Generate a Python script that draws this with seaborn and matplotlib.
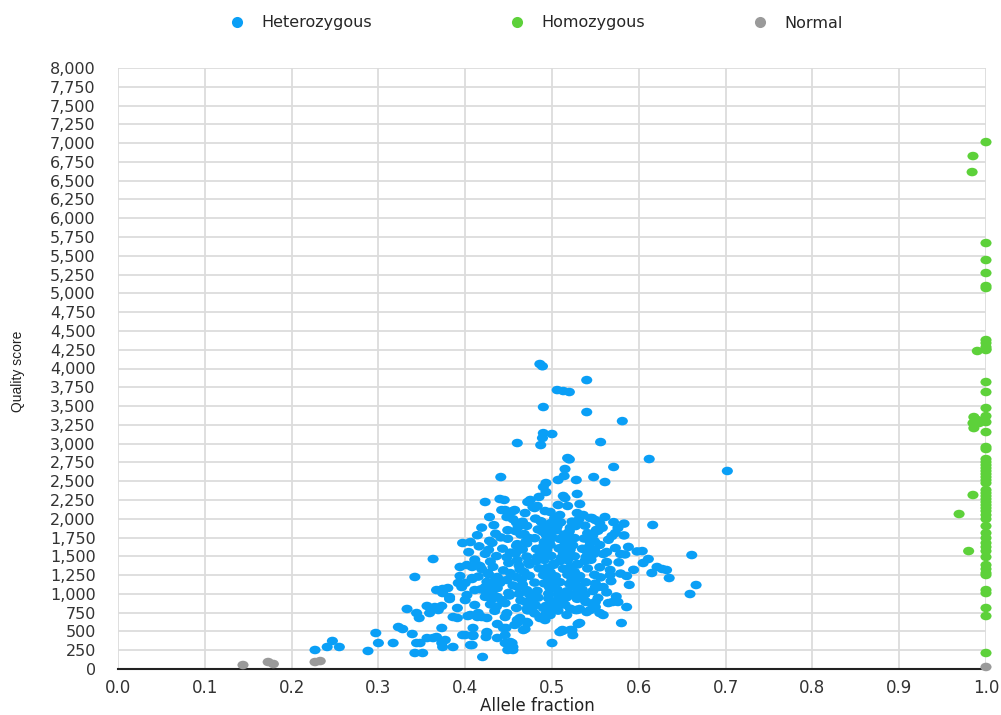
import numpy as np
import pandas as pd
import matplotlib
matplotlib.use("Agg")
import matplotlib.pyplot as plt
import matplotlib.path as mpath
from matplotlib.lines import Line2D
from matplotlib.ticker import FuncFormatter, MultipleLocator
import seaborn as sns

# ---------------- data ----------------
categories = ["Heterozygous", "Homozygous", "Normal"]
colors = ["#0A9FF6", "#5DD13A", "#9A9A9A"]

het_af = [
    0.486, 0.489, 0.540, 0.506, 0.513, 0.520, 0.490, 0.540, 0.581, 0.490,
    0.500, 0.489, 0.487, 0.460, 0.556, 0.518, 0.520, 0.612, 0.571, 0.515,
    0.702, 0.441, 0.514, 0.507, 0.528, 0.548, 0.561, 0.493, 0.490, 0.493,
    0.485, 0.513, 0.515, 0.529, 0.423, 0.440, 0.445, 0.472, 0.483, 0.480,
    0.518, 0.532, 0.446, 0.455, 0.469, 0.492, 0.529, 0.428, 0.448, 0.509,
    0.546, 0.561, 0.475, 0.442, 0.457, 0.478, 0.498, 0.507, 0.536, 0.544,
    0.550, 0.555,
    0.616, 0.661, 0.666, 0.659, 0.604, 0.605, 0.611, 0.615, 0.621, 0.627,
    0.632, 0.635, 0.586, 0.576, 0.573, 0.569, 0.579, 0.573, 0.563, 0.559,
    0.563, 0.567, 0.567, 0.559, 0.553, 0.550, 0.586, 0.576, 0.570, 0.559,
    0.553, 0.550, 0.547, 0.565, 0.555, 0.550, 0.544, 0.529, 0.532, 0.580,
    0.530, 0.523, 0.524, 0.512, 0.500, 0.469, 0.472, 0.455, 0.449, 0.452,
    0.446, 0.420, 0.425, 0.424, 0.409, 0.408, 0.437, 0.447, 0.446, 0.460,
    0.463, 0.488, 0.492, 0.498, 0.517, 0.527, 0.532, 0.506, 0.507, 0.517,
    0.529, 0.460, 0.457, 0.471, 0.467, 0.444, 0.454, 0.455, 0.512, 0.521,
    0.509, 0.490, 0.498, 0.486, 0.492, 0.478, 0.477, 0.437, 0.446, 0.397,
    0.227, 0.241, 0.247, 0.255, 0.288, 0.297, 0.300, 0.317, 0.323, 0.328,
    0.339, 0.333, 0.342, 0.363, 0.344, 0.347, 0.344, 0.342, 0.348, 0.351,
    0.356, 0.356, 0.359, 0.365, 0.369, 0.373, 0.367, 0.374, 0.380, 0.363,
    0.367, 0.373, 0.377, 0.373, 0.386, 0.382, 0.391, 0.394, 0.392, 0.396,
    0.397, 0.406, 0.400, 0.409, 0.406, 0.394, 0.402, 0.408, 0.414, 0.400,
    0.406, 0.414, 0.408, 0.411, 0.402, 0.386, 0.391, 0.403, 0.415, 0.419,
    0.425, 0.411, 0.400, 0.417, 0.408, 0.423, 0.431, 0.437, 0.442, 0.426,
    0.437, 0.440, 0.448, 0.409, 0.425, 0.374, 0.374, 0.382,
    0.455, 0.466, 0.481, 0.487, 0.499, 0.503, 0.523, 0.531, 0.571,
    0.433, 0.459, 0.471, 0.488, 0.491, 0.506, 0.510, 0.528, 0.538, 0.583,
    0.419, 0.449, 0.461, 0.484, 0.494, 0.505, 0.521, 0.527, 0.551, 0.558,
    0.435, 0.458, 0.468, 0.489, 0.496, 0.514, 0.520, 0.541, 0.553,
    0.414, 0.441, 0.464, 0.473, 0.493, 0.500, 0.518, 0.526, 0.547, 0.583,
    0.428, 0.449, 0.470, 0.480, 0.497, 0.509, 0.517, 0.537, 0.549, 0.565,
    0.431, 0.460, 0.471, 0.491, 0.498, 0.516, 0.524, 0.544, 0.555,
    0.416, 0.443, 0.459, 0.482, 0.490, 0.508, 0.514, 0.535, 0.543, 0.588,
    0.404, 0.427, 0.452, 0.466, 0.487, 0.494, 0.513, 0.521, 0.541, 0.549, 0.598,
    0.423, 0.436, 0.458, 0.471, 0.492, 0.499, 0.518, 0.526, 0.548, 0.584,
    0.411, 0.448, 0.460, 0.483, 0.491, 0.511, 0.518, 0.539, 0.545,
    0.429, 0.450, 0.473, 0.482, 0.502, 0.509, 0.529, 0.538, 0.577,
    0.432, 0.462, 0.474, 0.494, 0.502, 0.521, 0.530, 0.555,
    0.419, 0.444, 0.463, 0.485, 0.493, 0.513, 0.520, 0.541, 0.594,
    0.427, 0.452, 0.468, 0.490, 0.498, 0.518, 0.526, 0.549, 0.579,
    0.415, 0.435, 0.459, 0.474, 0.496, 0.504, 0.523, 0.532, 0.556,
    0.425, 0.442, 0.465, 0.480, 0.501, 0.509, 0.529, 0.539, 0.568,
    0.429, 0.455, 0.466, 0.491, 0.500, 0.520, 0.530, 0.550, 0.589,
    0.418, 0.437, 0.461, 0.471, 0.497, 0.506, 0.526, 0.535,
    0.424, 0.450, 0.462, 0.483, 0.496, 0.517, 0.526, 0.547, 0.563,
    0.423, 0.451, 0.474, 0.484, 0.507, 0.517, 0.538, 0.574,
    0.431, 0.464, 0.475, 0.496, 0.508, 0.529, 0.539,
    0.429, 0.446, 0.470, 0.481, 0.502, 0.515, 0.539, 0.547,
    0.436, 0.459, 0.471, 0.493, 0.521,
    0.434, 0.448, 0.472, 0.480, 0.507, 0.540,
]
het_q = [
    4060, 4030, 3846, 3713, 3700, 3687, 3487, 3420, 3300, 3140,
    3128, 3075, 2981, 3008, 3021, 2808, 2790, 2795, 2689, 2662,
    2636, 2555, 2569, 2516, 2516, 2555, 2489, 2476, 2422, 2356,
    2290, 2303, 2276, 2330, 2223, 2263, 2250, 2223, 2170, 2143,
    2170, 2196, 2116, 2103, 2076, 2103, 2076, 2023, 2023, 2050,
    2010, 2023, 2250, 2116, 2116, 2156, 2090, 2183, 2050, 2010,
    1983, 1943,
    1917, 1517, 1118, 998, 1570, 1411, 1464, 1278, 1358, 1331,
    1318, 1211, 1238, 1877, 1810, 1770, 1531, 1610, 1557, 1531,
    1424, 1318, 1251, 1091, 1091, 1091, 825, 892, 892, 719,
    945, 892, 812, 878, 745, 825, 785, 785, 612, 612,
    599, 519, 452, 506, 346, 532, 612, 293, 253, 359,
    346, 160, 492, 426, 452, 319, 599, 546, 692, 612,
    679, 679, 719, 719, 719, 785, 799, 825, 918, 958,
    945, 652, 586, 626, 519, 546, 346, 253, 519, 519,
    492, 812, 785, 679, 652, 878, 785, 413, 452, 452,
    253, 293, 373, 293, 240, 479, 346, 346, 559, 532,
    466, 799, 1225, 1464, 745, 679, 346, 213, 346, 213,
    412, 839, 745, 825, 785, 839, 1051, 1011, 1078, 412,
    426, 346, 386, 546, 293, 958, 812, 1238, 1145, 1091,
    1677, 1690, 452, 439, 319, 1358, 1384, 1358, 1384, 918,
    719, 692, 1211, 1051, 985, 692, 679, 705, 745, 692,
    679, 852, 1145, 1371, 1198, 1091, 1025, 958, 918, 1278,
    1225, 1145, 1185, 546, 479, 293, 1065, 932,
    1995, 1960, 2002, 1968, 1945, 2010, 1962, 1990, 1955,
    1915, 1948, 1905, 1957, 1921, 1898, 1952, 1926, 1908, 1935,
    1882, 1848, 1890, 1858, 1897, 1846, 1880, 1902, 1851, 1880,
    1801, 1836, 1797, 1829, 1842, 1790, 1832, 1808, 1840,
    1781, 1752, 1790, 1746, 1786, 1755, 1797, 1743, 1779, 1778,
    1706, 1734, 1698, 1741, 1703, 1731, 1694, 1737, 1700, 1720,
    1680, 1662, 1673, 1691, 1652, 1684, 1647, 1689, 1651,
    1633, 1602, 1640, 1599, 1636, 1606, 1641, 1600, 1630, 1625,
    1556, 1587, 1549, 1590, 1553, 1583, 1546, 1587, 1550, 1582, 1565,
    1533, 1503, 1540, 1497, 1536, 1506, 1542, 1500, 1531, 1525,
    1455, 1487, 1450, 1490, 1452, 1484, 1448, 1488, 1454,
    1430, 1411, 1424, 1439, 1403, 1434, 1398, 1438, 1420,
    1360, 1377, 1390, 1350, 1387, 1356, 1392, 1354,
    1330, 1313, 1325, 1340, 1303, 1334, 1298, 1339, 1320,
    1259, 1277, 1290, 1250, 1287, 1256, 1292, 1254, 1270,
    1230, 1213, 1224, 1240, 1203, 1234, 1198, 1238, 1220,
    1160, 1177, 1190, 1150, 1187, 1156, 1192, 1154, 1170,
    1130, 1113, 1124, 1140, 1103, 1134, 1098, 1138, 1120,
    1060, 1077, 1090, 1050, 1087, 1056, 1092, 1054,
    1030, 1013, 1000, 1040, 1003, 1034, 998, 1038, 1020,
    960, 977, 990, 950, 987, 956, 992, 966,
    930, 913, 900, 940, 903, 934, 898,
    860, 877, 890, 850, 887, 856, 892, 866,
    830, 813, 800, 840, 803,
    774, 743, 780, 740, 777, 758,
]

hom_af = [
    1.0, 0.985, 0.984, 1.0, 1.0, 1.0, 1.0, 1.0, 1.0, 1.0,
    1.0, 0.990, 1.0, 1.0, 1.0, 1.0, 1.0, 1.0, 0.986, 0.990,
    0.985, 0.992, 1.0, 0.986, 1.0, 1.0, 1.0, 1.0, 1.0, 1.0,
    1.0, 1.0, 1.0, 1.0, 1.0, 1.0, 0.985, 1.0, 1.0, 1.0,
    1.0, 1.0, 1.0, 1.0, 1.0, 1.0, 1.0, 0.969, 1.0, 1.0,
    1.0, 1.0, 1.0, 1.0, 1.0, 0.980, 1.0, 1.0, 1.0, 1.0,
    1.0, 1.0, 1.0, 1.0, 1.0,
]
hom_q = [
    7014, 6828, 6615, 5670, 5444, 5271, 5098, 5071, 4379, 4339,
    4286, 4233, 4246, 4259, 3820, 3687, 3474, 3367, 3354, 3314,
    3274, 3274, 3287, 3207, 3154, 2955, 2928, 2795, 2755, 2715,
    2675, 2636, 2596, 2556, 2516, 2476, 2316, 2383, 2343, 2303,
    2263, 2223, 2183, 2143, 2103, 2050, 1997, 2063, 1903, 1810,
    1744, 1677, 1624, 1570, 1491, 1570, 1384, 1331, 1278, 1251,
    1051, 1011, 812, 705, 213,
]

norm_af = [0.144, 0.173, 0.179, 0.227, 0.233, 1.0]
norm_q = [53, 93, 67, 93, 106, 27]

x_ticks = [0.0, 0.1, 0.2, 0.3, 0.4, 0.5, 0.6, 0.7, 0.8, 0.9, 1.0]
x_label = "Allele fraction"
y_label = "Quality score"

assert len(het_af) == len(het_q)
assert len(hom_af) == len(hom_q)

df = pd.concat([
    pd.DataFrame({"af": het_af, "q": het_q, "type": categories[0]}),
    pd.DataFrame({"af": hom_af, "q": hom_q, "type": categories[1]}),
    pd.DataFrame({"af": norm_af, "q": norm_q, "type": categories[2]}),
], ignore_index=True)

# ---------------- plot ----------------
sns.set_theme(style="white")
plt.rcParams["font.family"] = ["DejaVu Sans"]

circ = mpath.Path.unit_circle()
ellipse = mpath.Path(circ.vertices * np.array([1.3, 1.0]), circ.codes)

fig = plt.figure(figsize=(10.01, 7.15), dpi=100)
ax = fig.add_axes([118 / 1001, 46 / 715, 868 / 1001, 601 / 715])

sns.scatterplot(data=df, x="af", y="q", hue="type", hue_order=categories,
                palette=colors, marker=ellipse, s=64, linewidth=0,
                alpha=1.0, legend=False, ax=ax, clip_on=False, zorder=3)

ax.set_xlim(0, 1.0)
ax.set_ylim(0, 8000)
ax.set_xticks(x_ticks)
ax.xaxis.set_major_formatter(FuncFormatter(lambda v, p: f"{v:.1f}"))
ax.yaxis.set_major_locator(MultipleLocator(250))
ax.yaxis.set_major_formatter(FuncFormatter(lambda v, p: f"{int(v):,}"))
ax.grid(True, color="#dcdcdc", linewidth=1.3)
ax.set_axisbelow(True)
for side in ["left", "right", "top"]:
    ax.spines[side].set_visible(False)
ax.spines["bottom"].set_color("#222222")
ax.spines["bottom"].set_linewidth(1.5)
ax.spines["bottom"].set_zorder(2)
ax.tick_params(axis="both", length=0, labelcolor="#333333")
ax.tick_params(axis="y", pad=16, labelsize=11.5)
ax.tick_params(axis="x", pad=7, labelsize=12)

ax.set_xlabel("")
ax.set_ylabel("")
fig.text(537 / 1001, 1 - 706 / 715, x_label, ha="center", va="center",
         fontsize=12, color="#222222")
fig.text(18 / 1001, 1 - 371 / 715, y_label, ha="center", va="center",
         rotation=90, fontsize=10, color="#222222", family=["Liberation Sans"])

# legend: one entry per position, markers centred at 237, 517, 760 px
legend_marker_px = [237, 517, 760]
for cat, col, mx in zip(categories, colors, legend_marker_px):
    h = Line2D([0], [0], marker="o", linestyle="", markersize=8,
               markerfacecolor=col, markeredgewidth=0)
    fig.legend([h], [cat], loc="center left",
               bbox_to_anchor=((mx - 8) / 1001, 1 - 23 / 715), frameon=False,
               fontsize=11.5, handlelength=1.0, handletextpad=1.0,
               borderpad=0, borderaxespad=0)

fig.savefig("out.png", dpi=100)
